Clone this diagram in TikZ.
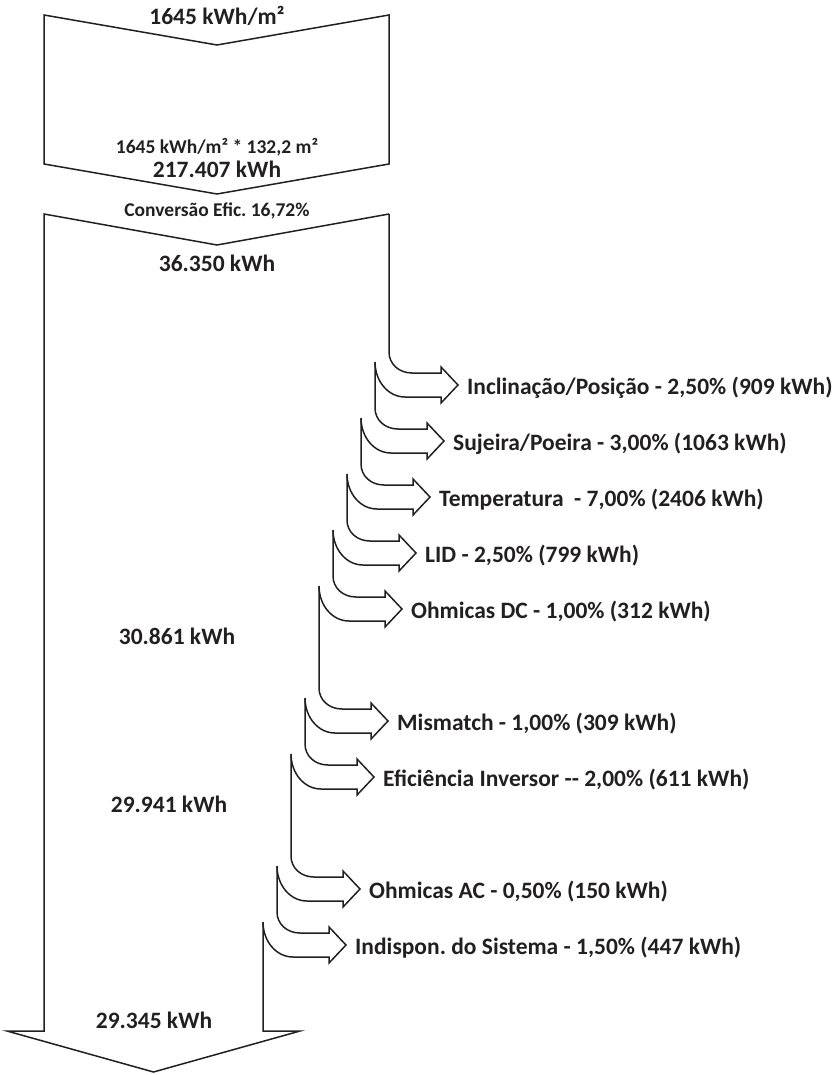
\documentclass[tikz,border=0pt]{standalone}
\usepackage{fontspec}
\setmainfont{Carlito}
\definecolor{ink}{HTML}{231F20}
\tikzset{
  outline/.style={draw=ink, line width=1.5pt, line join=miter},
  bigtxt/.style={font=\bfseries\fontsize{23.5}{28}\selectfont, text=ink, inner sep=0pt},
  smalltxt/.style={font=\bfseries\fontsize{19.5}{24}\selectfont, text=ink, inner sep=0pt},
  losstxt/.style={font=\bfseries\fontsize{23.5}{28}\selectfont, text=ink, inner sep=0pt, anchor=base west}
}
\frenchspacing
\begin{document}
\begin{tikzpicture}[x=1pt,y=-1pt]
\useasboundingbox (0,0) rectangle (839,1075);

% top chevron block
\draw[outline] (44,15) -- (217,45) -- (389,15) -- (389,164) -- (217,194) -- (44,164) -- cycle;

% main body with final arrow head
\draw[outline] (389,214) -- (217,245) -- (44,214) -- (44,1031) -- (7,1031) -- (153.5,1072) -- (300,1031) -- (263,1031) -- (263,922);

% loss arrows: k / row index n / top of the vertical line
\foreach \k/\n/\top in {1/0/214, 2/1/362, 3/2/418, 4/3/474, 5/4/530, 6/6/586, 7/7/698, 8/9/754, 9/10/866}{
  \pgfmathsetmacro\O{389-14*(\k-1)}
  \pgfmathsetmacro\I{\O-14}
  \pgfmathsetmacro\U{373+56*\n}
  \pgfmathsetmacro\L{\U+24}
  \pgfmathsetmacro\B{\O+52}
  \draw[outline] ({\O},{\top}) -- ({\O},{\U-21})
     .. controls ({\O},{\U-9}) and ({\O+10},{\U}) .. ({\O+23},{\U})
     -- ({\B},{\U}) -- ({\B},{\U-6}) -- ({\B+17},{\U+12}) -- ({\B},{\L+6}) -- ({\B},{\L})
     -- ({\I+30},{\L})
     .. controls ({\I+13},{\L}) and ({\I},{\U+8}) .. ({\I},{\U-11});
}

% value texts
\node[bigtxt, anchor=base] (v0) at (217,25) {1645 kWh/m²};
\node[smalltxt, anchor=base] (v1) at (217,154) {1645 kWh/m² * 132,2 m²};
\node[bigtxt, anchor=base] (v2) at (217,178) {217.407 kWh};
\node[smalltxt, anchor=base] (v3) at (217,217) {Conversão Efic. 16,72\%};
\node[bigtxt, anchor=base] (v4) at (217,271) {36.350 kWh};
\node[bigtxt, anchor=base] (v5) at (177,644) {30.861 kWh};
\node[bigtxt, anchor=base] (v6) at (169,812) {29.941 kWh};
\node[bigtxt, anchor=base] (v7) at (154,1028) {29.345 kWh};

% loss labels
\node[losstxt] (l1) at (467,394) {Inclinação/Posição - 2,50\% (909 kWh)};
\node[losstxt] (l2) at (453,450) {Sujeira/Poeira - 3,00\% (1063 kWh)};
\node[losstxt] (l3) at (439,506) {Temperatura~ - 7,00\% (2406 kWh)};
\node[losstxt] (l4) at (425,562) {LID - 2,50\% (799 kWh)};
\node[losstxt] (l5) at (411,618) {Ohmicas DC - 1,00\% (312 kWh)};
\node[losstxt] (l6) at (397,730) {Mismatch - 1,00\% (309 kWh)};
\node[losstxt] (l7) at (383,786) {Eficiência Inversor -{}- 2,00\% (611 kWh)};
\node[losstxt] (l8) at (369,898) {Ohmicas AC - 0,50\% (150 kWh)};
\node[losstxt] (l9) at (355,954) {Indispon. do Sistema - 1,50\% (447 kWh)};
\end{tikzpicture}
\end{document}
